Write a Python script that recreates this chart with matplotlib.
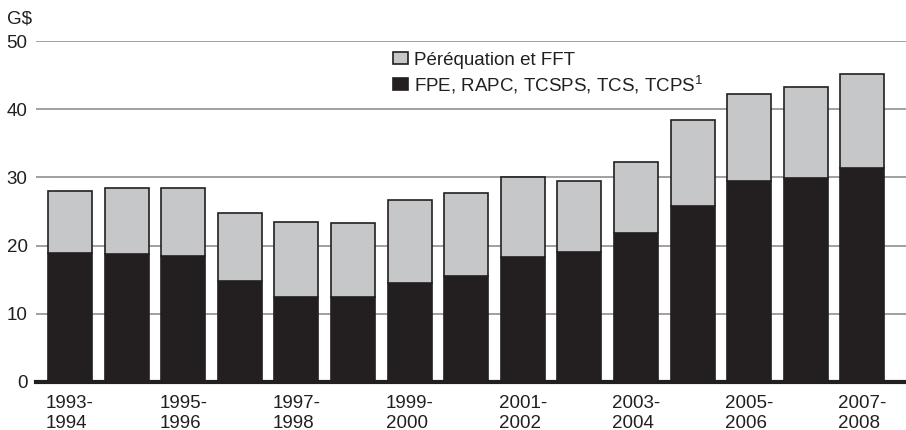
import numpy as np
import matplotlib
matplotlib.use("Agg")
import matplotlib.pyplot as plt

plt.rcParams["font.family"] = ["Liberation Sans", "DejaVu Sans"]
plt.rcParams["mathtext.fontset"] = "custom"
plt.rcParams["mathtext.rm"] = "Liberation Sans"

# data (G$)
years = ["1993-\n1994", "1994-\n1995", "1995-\n1996", "1996-\n1997", "1997-\n1998",
         "1998-\n1999", "1999-\n2000", "2000-\n2001", "2001-\n2002", "2002-\n2003",
         "2003-\n2004", "2004-\n2005", "2005-\n2006", "2006-\n2007", "2007-\n2008"]
fpe = [18.9, 18.7, 18.5, 14.8, 12.5, 12.5, 14.5, 15.5, 18.3, 19.1, 21.8, 25.8, 29.4, 29.9, 31.4]
total = [28.0, 28.5, 28.4, 24.8, 23.4, 23.3, 26.7, 27.7, 30.1, 29.5, 32.3, 38.4, 42.3, 43.2, 45.2]
perequation = [t - f for t, f in zip(total, fpe)]

dark = "#231f20"
grey = "#c6c7c8"
fs = 13.5

fig = plt.figure(figsize=(9.06, 4.30), dpi=100)
ax = fig.add_axes([36 / 906, 48 / 430, 870 / 906, (382 - 41) / 430])

x = np.arange(len(years))
w = 0.777
ax.bar(x, fpe, w, color=dark, edgecolor=dark, linewidth=1.2, zorder=3,
       label="FPE, RAPC, TCSPS, TCS, TCPS$^{1}$")
ax.bar(x, perequation, w, bottom=fpe, color=grey, edgecolor=dark, linewidth=1.2, zorder=3,
       label="Péréquation et FFT")

ax.set_xlim(-0.6005, 14.77)
ax.set_ylim(0, 50)
ax.set_yticks([0, 10, 20, 30, 40, 50])
ax.yaxis.grid(True, color="#999999", linewidth=1.3, zorder=0)
ax.tick_params(axis="y", length=0, pad=6, labelsize=fs, labelcolor=dark)
ax.tick_params(axis="x", length=0, pad=9, labelsize=fs, labelcolor=dark)
ax.set_xticks(x[::2])
ax.set_xticklabels(years[::2], multialignment="left", linespacing=1.25)

for s in ["top", "right", "left"]:
    ax.spines[s].set_visible(False)
ax.spines["bottom"].set_color(dark)
ax.spines["bottom"].set_linewidth(3)
ax.spines["bottom"].set_zorder(4)

fig.text(7 / 906, 1 - 19 / 430, "G$", fontsize=fs, color=dark, va="center", ha="left")

h, l = ax.get_legend_handles_labels()
leg = ax.legend(h[::-1], l[::-1], loc="upper left",
                bbox_to_anchor=(393 / 906, 1 - 52 / 430), bbox_transform=fig.transFigure,
                frameon=False, fontsize=fs, handlelength=0.8, handleheight=0.6,
                handletextpad=0.3, labelspacing=0.2, borderpad=0, borderaxespad=0)
for t in leg.get_texts():
    t.set_color(dark)

fig.savefig("out.png", dpi=100)
